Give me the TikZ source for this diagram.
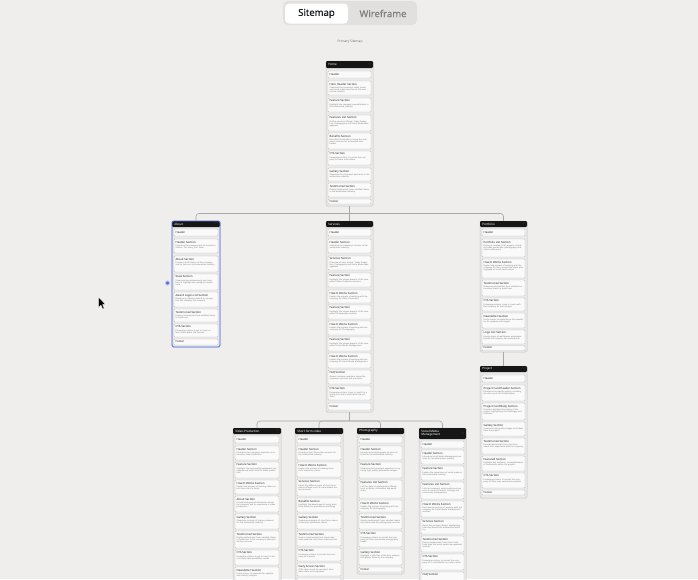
\documentclass[tikz,border=0pt]{standalone}
\usepackage{fontspec}
\setmainfont{Noto Sans}
\newfontfamily\tabfont{Noto Sans}[FakeBold=0.7]
\definecolor{pagebg}{HTML}{F0EEEC}
\definecolor{togglebg}{HTML}{E2E0DE}
\definecolor{cardfill}{HTML}{EAEAEA}
\definecolor{cardline}{HTML}{C4C4C4}
\definecolor{secfill}{HTML}{FAFAFA}
\definecolor{secline}{HTML}{C0C0C0}
\definecolor{barblack}{HTML}{161616}
\definecolor{connline}{HTML}{A8A8A8}
\definecolor{selblue}{HTML}{4F6FE3}

% card: name, left, top, right, bottom, bar bottom, title
\newcommand\sitecard[7]{%
  \def\cardL{#2}\def\cardR{#4}%
  \node[cardbox,minimum width={#4-#2},minimum height={#5-#3}] (#1) at ({(#2+#4)/2},{(#3+#5)/2}) {};
  \node[barbox,minimum width={#4-#2},minimum height={#6-#3}] (#1-bar) at ({(#2+#4)/2},{(#3+#6)/2}) {};
  \node[bartitle] (#1-title) at ({#2+2.2},{(#3+#6)/2}) {#7};
  \node[bardots] (#1-menu) at ({#4-2.2},{(#3+#6)/2}) {···};
}
% section with description: name, top, bottom, title, description
\newcommand\sitesec[5]{%
  \node[secbox,minimum width={\cardR-\cardL-4},minimum height={#3-#2}] (#1) at ({(\cardL+\cardR)/2},{(#2+#3)/2}) {};
  \node[sectitle] (#1-t) at ({\cardL+3.5},{#2+1.7}) {#4};
  \node[secdesc] (#1-d) at ({\cardL+3.5},{#2+5.3}) {#5};
}
% section whose lower part runs off the page: name, top, bottom, title
\newcommand\sitecut[4]{%
  \node[secbox,minimum width={\cardR-\cardL-4},minimum height={#3-#2}] (#1) at ({(\cardL+\cardR)/2},{(#2+#3)/2}) {};
  \node[sectitle] (#1-t) at ({\cardL+3.5},{#2+1.7}) {#4};
}
% single-line section: name, top, bottom, title
\newcommand\siterow[4]{%
  \node[secbox,minimum width={\cardR-\cardL-4},minimum height={#3-#2}] (#1) at ({(\cardL+\cardR)/2},{(#2+#3)/2}) {};
  \node[sectitle,anchor=west] (#1-t) at ({\cardL+3.5},{(#2+#3)/2}) {#4};
}

\begin{document}
\begin{tikzpicture}[x=1pt,y=-1pt,
  cardbox/.style={draw=cardline,fill=cardfill,line width=0.5pt,rounded corners=1.5pt,inner sep=0pt},
  barbox/.style={fill=barblack,rounded corners=1.2pt,inner sep=0pt},
  bartitle/.style={text=white,font=\fontsize{3}{3.4}\selectfont,inner sep=0pt,anchor=west,align=left},
  bardots/.style={text=white!55!black,font=\fontsize{3}{3}\selectfont,inner sep=0pt,anchor=east},
  secbox/.style={draw=secline,fill=secfill,line width=0.45pt,rounded corners=0.8pt,inner sep=0pt},
  sectitle/.style={text=black!85,font=\fontsize{2.8}{3.2}\selectfont,inner sep=0pt,anchor=north west},
  secdesc/.style={text=black!55,font=\fontsize{2}{2.45}\selectfont,inner sep=0pt,anchor=north west,text width=40pt,align=left},
  conn/.style={draw=connline,line width=0.6pt,rounded corners=3pt},
]
\useasboundingbox (0,0) rectangle (698,579);
\clip (0,0) rectangle (698,579);
\fill[pagebg] (0,0) rectangle (698,579);

% view switch
\node[fill=togglebg,rounded corners=5pt,minimum width=134pt,minimum height=24pt,inner sep=0pt] (switch) at (350,13) {};
\node[fill=white,rounded corners=4pt,minimum width=63pt,minimum height=20pt,inner sep=0pt,
      font=\tabfont\fontsize{9.5}{10}\selectfont,text=black!88] (tab-sitemap) at (316.5,13.5) {Sitemap};
\node[font=\tabfont\fontsize{9.5}{10}\selectfont,text=black!50,inner sep=0pt] (tab-wireframe) at (383,13.5) {Wireframe};

% sitemap heading
\draw[black!7,line width=0.4pt] (152,42) -- (548,42);
\node[fill=pagebg,inner sep=1pt,font=\fontsize{3.2}{3.5}\selectfont,text=black!55] (heading) at (350,41.5) {Primary Sitemap};

% ---------------- Home ----------------
\sitecard{home}{326}{61}{373}{206}{68}{Home}
\siterow{home-h}{71}{78}{Header}
\sitesec{home-hero}{81}{95}{Hero Header Section}{Showcase the company's video, photo and social media services for the automotive industry.}
\sitesec{home-feat}{98}{112}{Feature Section}{Highlight the company's specialization in the automotive industry.}
\sitesec{home-list}{115}{131}{Features List Section}{Outline services offered: Video Production, Photography and Social Media Management.}
\sitesec{home-ben}{133}{149}{Benefits Section}{Describe the benefits of using the company's services for automotive businesses.}
\sitesec{home-cta}{151}{165}{CTA Section}{Encourage visitors to contact the company for more information.}
\sitesec{home-gal}{168}{181}{Gallery Section}{Showcase the company's best work in the automotive industry.}
\sitesec{home-test}{183}{197}{Testimonial Section}{Display testimonials from satisfied clients in the automotive industry.}
\siterow{home-f}{199}{204}{Footer}

% ---------------- About ----------------
\sitecard{about}{172}{221}{220}{347}{227}{About}
\siterow{about-h}{229}{236}{Header}
\sitesec{about-head}{239}{253}{Header Section}{Introduce the company and its mission to visitors. Our Story, Our Team.}
\sitesec{about-about}{256}{272}{About Section}{Provide a brief history of the company and its focus on the automotive industry.}
\sitesec{about-stats}{274}{290}{Stats Section}{Showcase key achievements and numbers to highlight the company's experience.}
\sitesec{about-award}{292}{307}{Award Logos List Section}{Display any industry awards or recognition the company has received.}
\sitesec{about-test}{309}{322}{Testimonial Section}{Feature testimonials from satisfied clients to build trust.}
\sitesec{about-cta}{324}{337}{CTA Section}{Encourage visitors to get in touch or learn more about the services.}
\siterow{about-f}{339}{345}{Footer}
\node[draw=selblue,line width=0.9pt,rounded corners=1.5pt,inner sep=0pt,minimum width=48pt,minimum height=126pt] (about-sel) at (about.center) {};
\node[circle,fill=selblue,draw=selblue!35,line width=0.8pt,minimum size=4.2pt,inner sep=0pt] (about-handle) at (167.5,283) {};

% ---------------- Services ----------------
\sitecard{services}{326}{221}{373}{412}{227}{Services}
\siterow{serv-h}{229}{236}{Header}
\sitesec{serv-head}{239}{253}{Header Section}{Introduce the company's services to the automotive industry.}
\sitesec{serv-serv}{256}{270}{Services Section}{Overview of each service: Video Production, Photography and Social Media Management.}
\sitesec{serv-f1}{273}{287}{Feature Section}{Highlight the unique aspects of the company's Video Production services.}
\sitesec{serv-w1}{290}{303}{How It Works Section}{Explain the process of working with the company for Video Production.}
\sitesec{serv-f2}{305}{319}{Feature Section}{Highlight the unique aspects of the company's Photography services.}
\sitesec{serv-w2}{321}{335}{How It Works Section}{Explain the process of working with the company for Photography.}
\sitesec{serv-f3}{337}{351}{Feature Section}{Highlight the unique aspects of the company's Social Media Management.}
\sitesec{serv-w3}{353}{368}{How It Works Section}{Explain the process of working with the company for Social Media Management.}
\sitesec{serv-faq}{370}{384}{FAQ Section}{Answer common questions about the company's services and processes.}
\sitesec{serv-cta}{386}{400}{CTA Section}{Encourage visitors to get in touch for a quote or to learn more about the services.}
\siterow{serv-f}{403}{410}{Footer}

% ---------------- Portfolio ----------------
\sitecard{portfolio}{480}{221}{527}{352}{227}{Portfolio}
\siterow{port-h}{229}{236}{Header}
\sitesec{port-list}{239}{257}{Portfolio List Section}{Display a curated list of projects, including video production, photography and social media work.}
\sitesec{port-how}{259}{278}{How It Works Section}{Explain the process of working with the company for their automotive video, photography or social media needs.}
\sitesec{port-test}{280}{296}{Testimonial Section}{Showcase testimonials from satisfied automotive clients to build trust.}
\sitesec{port-cta}{298}{311}{CTA Section}{Encourage visitors to get in touch with the company for their project.}
\sitesec{port-news}{313}{328}{Newsletter Section}{Invite visitors to subscribe to the newsletter for updates and insights.}
\sitesec{port-logo}{330}{344}{Logo List Section}{Display logos of well-known automotive brands the company has worked with.}
\siterow{port-f}{345.5}{350.5}{Footer}

% ---------------- Project ----------------
\sitecard{project}{480}{366}{527}{498}{372}{Project}
\siterow{proj-h}{375}{382}{Header}
\sitesec{proj-head}{385}{401}{Project Card Header Section}{Introduce the specific project, including the client and a brief description.}
\sitesec{proj-body}{403}{420}{Project Card Body Section}{Provide a detailed description of the project, highlighting the challenges and solutions.}
\sitesec{proj-gal}{422}{436}{Gallery Section}{Showcase high-quality images and videos from the project.}
\sitesec{proj-test}{438}{454}{Testimonial Section}{Include testimonials from the client about their experience with the company.}
\sitesec{proj-feat}{456}{471}{Featured Section}{Highlight key elements, accomplishments or innovations within the project.}
\sitesec{proj-cta}{473}{488}{CTA Section}{Encourage visitors to contact the company for their own automotive projects.}
\siterow{proj-f}{490}{495}{Footer}

% ---------------- Video Production ----------------
\sitecard{video}{233}{428}{281}{600}{434}{Video Production}
\siterow{vid-h}{436}{443}{Header}
\sitesec{vid-head}{446}{460}{Header Section}{Introduce the company's expertise in automotive video production.}
\sitesec{vid-feat}{462}{478}{Feature Section}{Highlight the high-quality equipment and experienced team used for video production.}
\sitesec{vid-how}{480}{494}{How It Works Section}{Explain the process of creating video content from start to finish.}
\sitesec{vid-about}{496}{512}{About Section}{Provide background information about the company and its experience in video production.}
\sitesec{vid-gal}{514}{529}{Gallery Section}{Showcase a variety of videos produced for the automotive industry.}
\sitesec{vid-test}{531}{548}{Testimonial Section}{Display testimonials from satisfied clients to build trust in the company's video production services.}
\sitesec{vid-cta}{550}{565}{CTA Section}{Encourage visitors to get in touch to discuss their video production needs.}
\sitesec{vid-news}{567}{585}{Newsletter Section}{Invite visitors to subscribe for updates and industry insights.}

% ---------------- Short form video ----------------
\sitecard{shortform}{295}{428}{343}{600}{434}{Short form video}
\siterow{sfv-h}{436}{443}{Header}
\sitesec{sfv-head}{446}{460}{Header Section}{Introduce short form video services for the automotive industry.}
\sitesec{sfv-how}{462}{477}{How It Works Section}{Explain the process of creating short form videos for clients.}
\sitesec{sfv-serv}{479}{496}{Services Section}{Detail the different types of short form videos offered, such as social media content and ads.}
\sitesec{sfv-ben}{498}{512}{Benefits Section}{Highlight the advantages of using short form videos for automotive marketing.}
\sitesec{sfv-gal}{514}{529}{Gallery Section}{Showcase examples of short form videos created for automotive clients.}
\sitesec{sfv-test}{531}{546}{Testimonial Section}{Feature testimonials from clients who have used the short form video services.}
\sitesec{sfv-cta}{548}{561}{CTA Section}{Encourage visitors to contact the company for a quote.}
\sitesec{sfv-daily}{563}{576}{Daily Access Section}{Offer daily access to new short form video ideas and inspiration.}
\node[secbox,minimum width=44pt,minimum height=16pt] (sfv-faq) at (319,586) {};

% ---------------- Photography ----------------
\sitecard{photo}{357}{428}{404}{574}{434}{Photography}
\siterow{pho-h}{436}{443}{Header}
\sitesec{pho-head}{446}{460}{Header Section}{Introduce the photography services offered for the automotive industry.}
\sitesec{pho-feat}{462}{478}{Feature Section}{Showcase the company's expertise in capturing high quality automotive images.}
\sitesec{pho-list}{480}{498}{Features List Section}{List the types of photography offered, such as studio, on-location and aerial shots.}
\sitesec{pho-how}{500}{512}{How It Works Section}{Explain the process of working with the company for photography.}
\sitesec{pho-test}{514}{529}{Testimonial Section}{Display testimonials from satisfied clients who have used the photography services.}
\sitesec{pho-cta}{531}{547}{CTA Section}{Encourage visitors to contact the company for their automotive photography needs.}
\sitesec{pho-gal}{549}{565}{Gallery Section}{Highlight a selection of the best automotive photos taken by the company.}
\siterow{pho-f}{567}{572}{Footer}

% ---------------- Social Media Management ----------------
\sitecard{social}{419}{428}{466}{600}{439}{Social Media\\Management}
\siterow{soc-h}{441}{448}{Header}
\sitesec{soc-head}{450}{464}{Header Section}{Introduce Social Media Management services for the automotive industry.}
\sitesec{soc-feat}{466}{480}{Feature Section}{Explain the importance of social media in the automotive industry.}
\sitesec{soc-list}{482}{499}{Features List Section}{List the company's social media services, such as content creation, strategy and community management.}
\sitesec{soc-how}{501}{517}{How It Works Section}{Describe the process of working with the company for Social Media Management services.}
\sitesec{soc-serv}{519}{534}{Services Section}{Detail the services offered, highlighting how they benefit the automotive industry.}
\sitesec{soc-test}{536}{552}{Testimonial Section}{Display testimonials from clients who have used the social media management services.}
\sitesec{soc-cta}{554}{570}{CTA Section}{Encourage visitors to contact the company for a consultation on social media.}
\sitecut{soc-faq}{572}{590}{FAQ Section}

% ---------------- connectors ----------------
\coordinate (hub-top) at (349.5,213.5);
\coordinate (hub-bottom) at (349.5,421);
\draw[conn] (home.south) -- (services.north);
\draw[conn] (hub-top) -| (about.north);
\draw[conn] (hub-top) -| (portfolio.north);
\draw[conn] (portfolio.south) -- (project.north);
\draw[conn] (services.south) -- (hub-bottom);
\draw[conn] (hub-bottom) -| (video.north);
\draw[conn] (hub-bottom) -| (shortform.north);
\draw[conn] (hub-bottom) -| (photo.north);
\draw[conn] (hub-bottom) -| (social.north);

% pointer
\filldraw[fill=black,draw=white,line width=0.4pt,line join=round,shift={(98.5,297)}]
  (0,0) -- (0,10.5) -- (2.5,8.2) -- (4.2,12) -- (5.7,11.3) -- (4.1,7.6) -- (7.3,7.6) -- cycle;
\end{tikzpicture}
\end{document}
